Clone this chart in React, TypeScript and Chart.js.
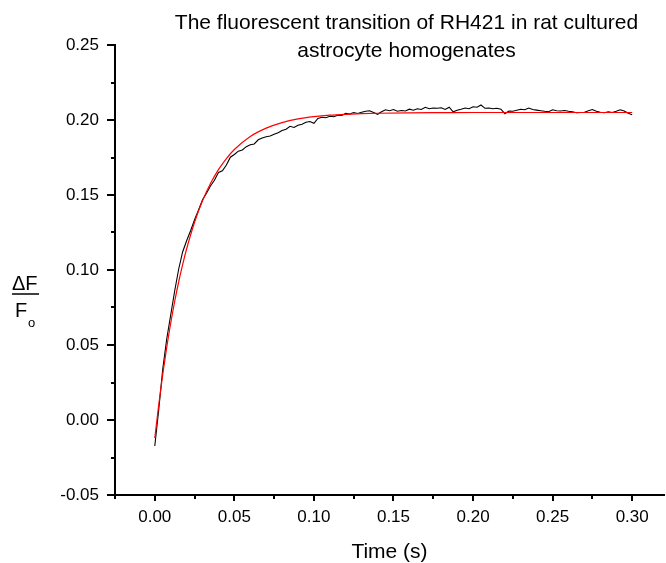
import React, { useEffect, useRef } from 'react';
import { Chart, registerables } from 'chart.js';

Chart.register(...registerables);

const titleLines = ['The fluorescent transition of RH421 in rat cultured', 'astrocyte homogenates'];
const xAxisTitle = 'Time (s)';
const xTickValues = [0, 0.05, 0.1, 0.15, 0.2, 0.25, 0.3];
const yTickValues = [-0.05, 0, 0.05, 0.1, 0.15, 0.2, 0.25];

// measured trace, sampled every 0.0025 s from t = 0
const traceStep = 0.0025;
const traceValues = [
  -0.0173, 0.0070, 0.0340, 0.0540, 0.0700, 0.0860, 0.1005, 0.1120, 0.1195, 0.1262,
  0.1335, 0.1400, 0.1468, 0.1512, 0.1560, 0.1598, 0.1650, 0.1662, 0.1700, 0.1752,
  0.1770, 0.1792, 0.1800, 0.1822, 0.1835, 0.1840, 0.1868, 0.1880, 0.1888, 0.1893,
  0.1905, 0.1915, 0.1930, 0.1938, 0.1958, 0.1950, 0.1965, 0.1972, 0.1985, 0.1990,
  0.1978, 0.2010, 0.2018, 0.2015, 0.2025, 0.2022, 0.2032, 0.2030, 0.2045, 0.2040,
  0.2050, 0.2043, 0.2052, 0.2058, 0.2062, 0.2050, 0.2038, 0.2055, 0.2068, 0.2062,
  0.2070, 0.2058, 0.2063, 0.2060, 0.2072, 0.2065, 0.2075, 0.2070, 0.2085, 0.2075,
  0.2080, 0.2078, 0.2082, 0.2070, 0.2085, 0.2055, 0.2065, 0.2072, 0.2080, 0.2075,
  0.2088, 0.2085, 0.2100, 0.2078, 0.2080, 0.2075, 0.2078, 0.2072, 0.2042, 0.2060,
  0.2058, 0.2065, 0.2072, 0.2068, 0.2080, 0.2070, 0.2066, 0.2062, 0.2058, 0.2055,
  0.2068, 0.2062, 0.2060, 0.2063, 0.2058, 0.2055, 0.2048, 0.2050, 0.2052, 0.2062,
  0.2070, 0.2058, 0.2052, 0.2048, 0.2055, 0.2050, 0.2058, 0.2068, 0.2060, 0.2045,
  0.2035,
];

// fitted curve
const fitTimes = [
  0, 0.0025, 0.005, 0.0075, 0.01, 0.0125, 0.015, 0.0175, 0.02, 0.025, 0.03, 0.035,
  0.04, 0.045, 0.05, 0.06, 0.07, 0.08, 0.09, 0.1, 0.11, 0.12, 0.13, 0.14, 0.16,
  0.18, 0.2, 0.25, 0.3,
];
const fitValues = [
  -0.012, 0.0103, 0.0304, 0.0484, 0.0645, 0.079, 0.092, 0.1036, 0.114, 0.1318, 0.1461,
  0.1576, 0.1669, 0.1743, 0.1803, 0.189, 0.1946, 0.1983, 0.2007, 0.2022, 0.2032,
  0.2038, 0.2042, 0.2045, 0.2048, 0.2049, 0.205, 0.205, 0.205,
];

const FONT = '"Liberation Sans", Arial, Helvetica, sans-serif';

const decorPlugin = {
  id: 'decor',
  afterDraw(chart: any) {
    const ctx = chart.ctx as CanvasRenderingContext2D;
    const xs = chart.scales.x;
    const ys = chart.scales.y;
    ctx.save();
    ctx.strokeStyle = '#000';
    ctx.lineWidth = 2;
    // minor ticks x
    for (let v = -0.025; v < xs.max; v += 0.05) {
      const px = Math.round(xs.getPixelForValue(v));
      ctx.beginPath();
      ctx.moveTo(px, xs.top);
      ctx.lineTo(px, xs.top + 4);
      ctx.stroke();
    }
    // minor ticks y
    for (let v = -0.025; v < ys.max; v += 0.05) {
      const py = Math.round(ys.getPixelForValue(v));
      ctx.beginPath();
      ctx.moveTo(ys.right, py);
      ctx.lineTo(ys.right - 4, py);
      ctx.stroke();
    }
    // title
    ctx.fillStyle = '#000';
    ctx.font = `21px ${FONT}`;
    ctx.textAlign = 'center';
    ctx.textBaseline = 'alphabetic';
    const cx = (chart.chartArea.left + chart.chartArea.right) / 2 + 17;
    ctx.fillText(titleLines[0], cx, 29);
    ctx.fillText(titleLines[1], cx, 57);
    // y label: ΔF over F_o
    ctx.font = `20px ${FONT}`;
    ctx.textAlign = 'left';
    ctx.fillText('ΔF', 12, 290);
    ctx.lineWidth = 1.5;
    ctx.beginPath();
    ctx.moveTo(12, 294);
    ctx.lineTo(39, 294);
    ctx.stroke();
    ctx.fillText('F', 15, 317);
    ctx.font = `13px ${FONT}`;
    ctx.fillText('o', 28, 327);
    ctx.restore();
  },
};

export default function App() {
  const canvasRef = useRef<HTMLCanvasElement | null>(null);

  useEffect(() => {
    if (!canvasRef.current) return;
    const trace = traceValues.map((v, i) => ({ x: i * traceStep, y: v }));
    const fit = fitTimes.map((t, i) => ({ x: t, y: fitValues[i] }));
    const chart = new Chart(canvasRef.current, {
      type: 'line',
      data: {
        datasets: [
          {
            label: 'Fit',
            data: fit,
            borderColor: '#ff0000',
            borderWidth: 1.2,
            pointRadius: 0,
            cubicInterpolationMode: 'monotone',
            order: 0,
          },
          {
            label: 'Trace',
            data: trace,
            borderColor: '#000000',
            borderWidth: 1.1,
            pointRadius: 0,
            tension: 0,
            order: 1,
          },
        ],
      },
      options: {
        animation: false,
        responsive: true,
        maintainAspectRatio: false,
        parsing: false as any,
        layout: { padding: { top: 45, right: 2, left: 0, bottom: 0 } },
        plugins: {
          legend: { display: false },
          title: { display: false },
          tooltip: { enabled: false },
        },
        scales: {
          x: {
            type: 'linear',
            min: -0.025,
            max: 0.32,
            afterBuildTicks: (s: any) => {
              s.ticks = xTickValues.map((v) => ({ value: v }));
            },
            afterFit: (s: any) => {
              s.height = 68;
            },
            ticks: {
              color: '#000',
              font: { family: FONT, size: 17 },
              padding: 6,
              maxRotation: 0,
              autoSkip: false,
              callback: (v: any) => Number(v).toFixed(2),
            },
            grid: {
              display: true,
              drawOnChartArea: false,
              drawTicks: true,
              tickLength: 6,
              color: '#000',
              lineWidth: 2,
            },
            border: { display: true, color: '#000', width: 2 },
            title: {
              display: true,
              text: xAxisTitle,
              color: '#000',
              font: { family: FONT, size: 21, lineHeight: 1 },
              padding: { top: 0, bottom: 0.5 },
            },
          },
          y: {
            type: 'linear',
            min: -0.05,
            max: 0.25,
            afterBuildTicks: (s: any) => {
              s.ticks = yTickValues.map((v) => ({ value: v }));
            },
            afterFit: (s: any) => {
              s.width = 115;
            },
            ticks: {
              color: '#000',
              font: { family: FONT, size: 17 },
              padding: 8,
              autoSkip: false,
              callback: (v: any) => Number(v).toFixed(2),
            },
            grid: {
              display: true,
              drawOnChartArea: false,
              drawTicks: true,
              tickLength: 8,
              color: '#000',
              lineWidth: 2,
            },
            border: { display: true, color: '#000', width: 2 },
          },
        },
      },
      plugins: [decorPlugin],
    } as any);
    return () => chart.destroy();
  }, []);

  return (
    <div style={{ position: 'absolute', left: 0, top: 0, width: 666, height: 563, background: '#fff' }}>
      <canvas ref={canvasRef} />
    </div>
  );
}
